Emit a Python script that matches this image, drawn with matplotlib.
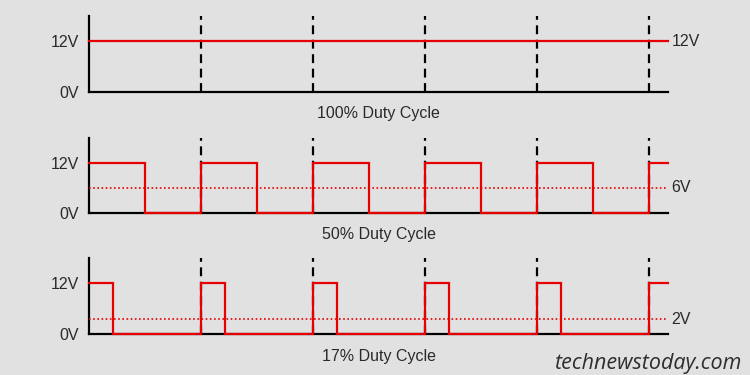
import numpy as np
import matplotlib
matplotlib.use("Agg")
import matplotlib.pyplot as plt

plt.rcParams['font.family'] = ['Liberation Sans', 'DejaVu Sans']

# data
titles = ['100% Duty Cycle', '50% Duty Cycle', '17% Duty Cycle']
duty = [1.0, 0.5, 0.21]            # fraction of each period spent high
high_v = 12
avg_levels = [None, 6, 3.5]         # dotted average line (panel 1 has none)
right_labels = ['12V', '6V', '2V']
n_periods = 5
x_end = 5.17                        # axis runs a bit past the 5th period
ytick_vals = [0, 12]
ytick_labels = ['0V', '12V']

BG = '#e1e1e1'
RED = '#e60000'

fig = plt.figure(figsize=(7.5, 3.75), dpi=100)
fig.patch.set_facecolor(BG)

# axes boxes in figure fractions (left, bottom, width, height)
boxes = [(0.1187, 0.756, 0.772, 0.201),
         (0.1187, 0.432, 0.772, 0.200),
         (0.1187, 0.109, 0.772, 0.203)]


def square_wave(d):
    xs, ys = [], []
    for k in range(n_periods):
        if d >= 1.0:
            xs += [k, k + 1]
            ys += [high_v, high_v]
        else:
            xs += [k, k + d, k + d, k + 1]
            ys += [high_v, high_v, 0, 0]
    # rising edge at the last boundary
    xs += [n_periods, n_periods, x_end]
    ys += [0 if d < 1.0 else high_v, high_v, high_v]
    return np.array(xs), np.array(ys)


for i, box in enumerate(boxes):
    ax = fig.add_axes(box)
    ax.set_facecolor(BG)
    ax.set_xlim(0, x_end)
    ax.set_ylim(0, 18)
    for s in ['top', 'right']:
        ax.spines[s].set_visible(False)
    for s in ['left', 'bottom']:
        ax.spines[s].set_linewidth(1.6)
        ax.spines[s].set_color('black')
    ax.set_xticks([])
    ax.set_yticks(ytick_vals)
    ax.set_yticklabels(ytick_labels, fontsize=11.5, color='#2a2a2a')
    ax.tick_params(axis='y', length=0, pad=7)

    # period markers
    for k in range(1, n_periods + 1):
        ax.plot([k, k], [0, 18], color='black', lw=1.6, ls=(0, (4, 2.5)),
                clip_on=False, zorder=2)

    xs, ys = square_wave(duty[i])
    ax.plot(xs, ys, color=RED, lw=1.6, clip_on=False, zorder=3,
            solid_joinstyle='miter')

    if avg_levels[i] is not None:
        ax.plot([0, x_end], [avg_levels[i]] * 2, color=RED, lw=1.2,
                ls=(0, (1, 1.5)), zorder=3, clip_on=False)
        label_y = avg_levels[i]
    else:
        label_y = high_v
    ax.text(x_end + 0.03, label_y, right_labels[i], fontsize=11.5,
            color='#2a2a2a', va='center', ha='left')

    ax.text(0.5, -0.29, titles[i], transform=ax.transAxes, fontsize=11.5,
            color='#2a2a2a', ha='center', va='center')

fig.text(0.989, 0.032, 'technewstoday.com', fontsize=15.5, style='italic',
         family=['Open Sans', 'DejaVu Sans'], color='#2e2e2e',
         ha='right', va='center')

fig.savefig('out.png', dpi=100, facecolor=BG)
